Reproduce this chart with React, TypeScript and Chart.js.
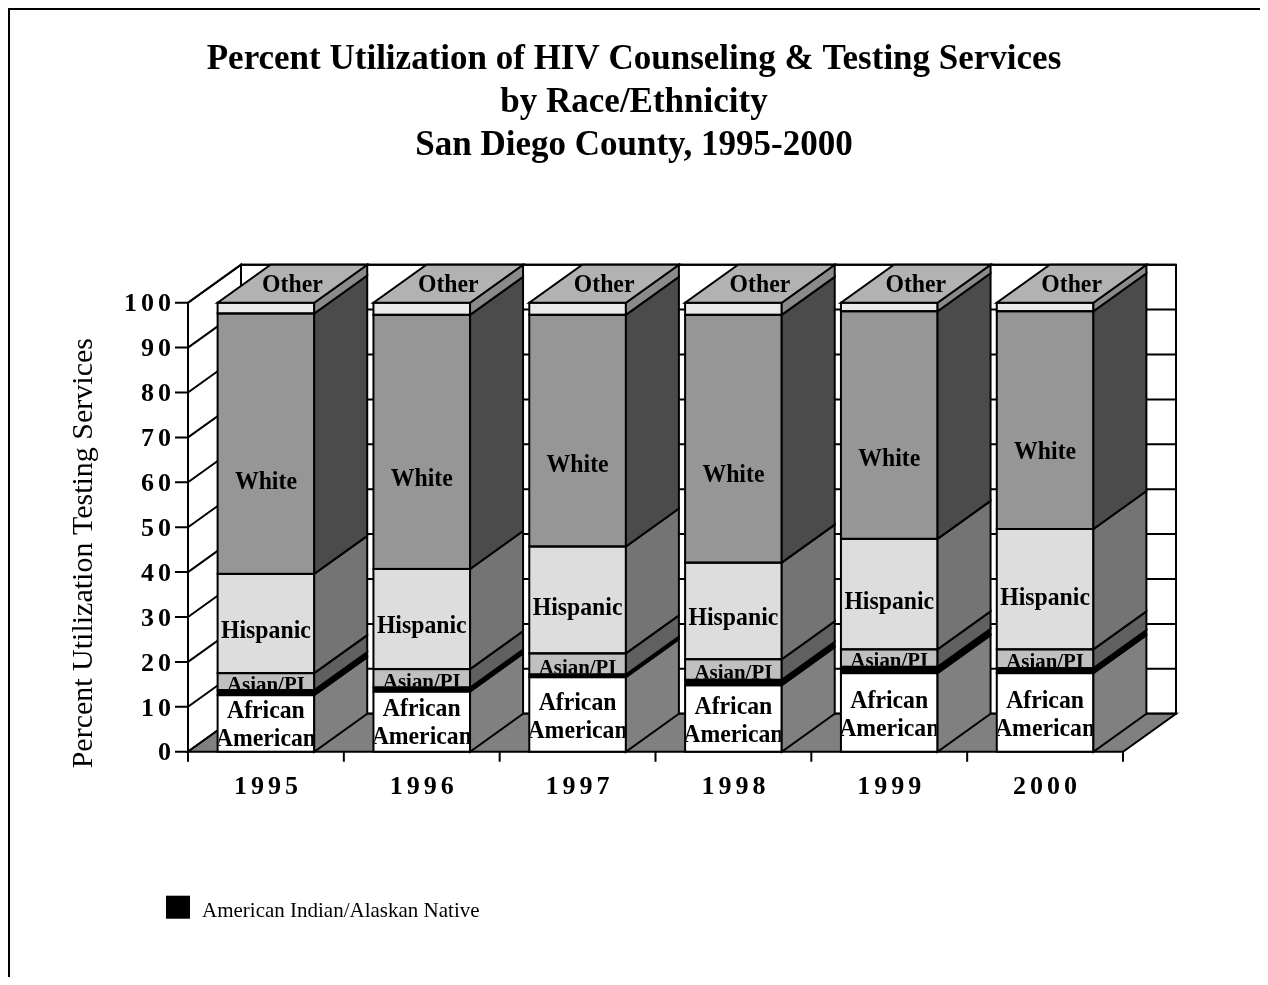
import React, { useEffect, useRef } from 'react';
import { Chart, registerables } from 'chart.js';

Chart.register(...registerables);

// Percent of clients per race/ethnicity group, stacked bottom to top
const YEARS = ['1995', '1996', '1997', '1998', '1999', '2000'];
const AFRICAN_AMERICAN = [12.6, 13.4, 16.6, 14.8, 17.5, 17.5];
const AMERICAN_INDIAN = [1.1, 0.9, 0.6, 1.2, 1.4, 1.1];
const ASIAN_PI = [3.8, 4.1, 4.7, 4.6, 3.9, 4.2];
const HISPANIC = [22.1, 22.3, 23.8, 21.5, 24.6, 26.8];
const WHITE = [58.0, 56.6, 51.6, 55.2, 50.7, 48.5];
const OTHER = [2.4, 2.7, 2.7, 2.7, 1.9, 1.9];
const Y_TICKS = [0, 10, 20, 30, 40, 50, 60, 70, 80, 90, 100];

const TITLE = [
  'Percent Utilization of HIV Counseling & Testing Services',
  'by Race/Ethnicity',
  'San Diego County, 1995-2000',
];
const Y_TITLE = 'Percent Utilization Testing Services';

const SERIF = '"Liberation Serif", "Times New Roman", Times, serif';
// depth offset of the 3D box (towards the back wall)
const DX = 53;
const DY = -38;
const EDGE = 2;

type SeriesLook = {
  label: string;
  data: number[];
  face: string;
  side: string;
  top: string;
  text: 'inside' | 'top' | 'legend';
  size?: number;
  at?: number;
};

const SERIES: SeriesLook[] = [
  { label: 'African American', data: AFRICAN_AMERICAN, face: '#ffffff', side: '#808080', top: '#c0c0c0', text: 'inside', size: 25, at: 0.46 },
  { label: 'American Indian/Alaskan Native', data: AMERICAN_INDIAN, face: '#000000', side: '#000000', top: '#000000', text: 'legend' },
  { label: 'Asian/PI', data: ASIAN_PI, face: '#c0c0c0', side: '#606060', top: '#909090', text: 'inside', size: 22, at: 0.3 },
  { label: 'Hispanic', data: HISPANIC, face: '#dddddd', side: '#747474', top: '#a6a6a6', text: 'inside', size: 25, at: 0.42 },
  { label: 'White', data: WHITE, face: '#969696', side: '#4b4b4b', top: '#707070', text: 'inside', size: 25, at: 0.35 },
  { label: 'Other', data: OTHER, face: '#eaeaea', side: '#8a8a8a', top: '#b2b2b2', text: 'top', size: 25 },
];

type Pt = [number, number];

function shape(ctx: CanvasRenderingContext2D, pts: Pt[], fill: string) {
  ctx.beginPath();
  ctx.moveTo(pts[0][0], pts[0][1]);
  for (let i = 1; i < pts.length; i++) ctx.lineTo(pts[i][0], pts[i][1]);
  ctx.closePath();
  ctx.fillStyle = fill;
  ctx.fill();
  ctx.stroke();
}

function blockOf(el: any) {
  const p = el.getProps(['x', 'y', 'base', 'width'], true);
  return {
    cx: p.x,
    xL: p.x - p.width / 2,
    xR: p.x + p.width / 2,
    w: p.width,
    yT: Math.min(p.y, p.base),
    yB: Math.max(p.y, p.base),
  };
}

const boxPlugin = {
  id: 'box3d',
  beforeDatasetsDraw(chart: any) {
    const ctx: CanvasRenderingContext2D = chart.ctx;
    const xs = chart.scales.x;
    const ys = chart.scales.y;
    const left = xs.left;
    const right = xs.right;
    const py = (v: number) => ys.getPixelForValue(v);
    const top = py(100);
    const bottom = py(0);

    ctx.save();
    ctx.lineWidth = EDGE;
    ctx.strokeStyle = '#000';
    ctx.lineJoin = 'miter';

    // back wall and side wall
    shape(ctx, [[left + DX, top + DY], [right + DX, top + DY], [right + DX, bottom + DY], [left + DX, bottom + DY]], '#ffffff');
    shape(ctx, [[left, top], [left + DX, top + DY], [left + DX, bottom + DY], [left, bottom]], '#ffffff');

    // gridlines running along both walls
    ctx.beginPath();
    Y_TICKS.forEach((v) => {
      const y = py(v);
      ctx.moveTo(left, y);
      ctx.lineTo(left + DX, y + DY);
      ctx.lineTo(right + DX, y + DY);
    });
    ctx.stroke();

    // floor
    shape(ctx, [[left, bottom], [right, bottom], [right + DX, bottom + DY], [left + DX, bottom + DY]], '#808080');

    // tick marks on the front axes
    ctx.beginPath();
    Y_TICKS.forEach((v) => {
      const y = py(v);
      ctx.moveTo(left - 13, y);
      ctx.lineTo(left, y);
    });
    const half = (xs.getPixelForValue(1) - xs.getPixelForValue(0)) / 2;
    const bounds = YEARS.map((_, i) => xs.getPixelForValue(i) - half);
    bounds.push(xs.getPixelForValue(YEARS.length - 1) + half);
    bounds.forEach((x) => {
      ctx.moveTo(x, bottom);
      ctx.lineTo(x, bottom + 10);
    });
    ctx.stroke();
    ctx.restore();
  },

  afterDatasetsDraw(chart: any) {
    const ctx: CanvasRenderingContext2D = chart.ctx;
    const n = chart.data.datasets.length;
    ctx.save();
    ctx.lineWidth = EDGE;
    ctx.strokeStyle = '#000';
    ctx.lineJoin = 'miter';

    // outlines of the front faces, then side and top faces of every block
    for (let di = 0; di < n; di++) {
      const look = SERIES[di];
      const meta = chart.getDatasetMeta(di);
      meta.data.forEach((el: any) => {
        const b = blockOf(el);
        ctx.strokeRect(b.xL, b.yT, b.w, b.yB - b.yT);
        shape(ctx, [[b.xR, b.yT], [b.xR + DX, b.yT + DY], [b.xR + DX, b.yB + DY], [b.xR, b.yB]], look.side);
        if (di === n - 1) {
          shape(ctx, [[b.xL, b.yT], [b.xR, b.yT], [b.xR + DX, b.yT + DY], [b.xL + DX, b.yT + DY]], look.top);
        }
      });
    }

    // series names written on the blocks
    ctx.fillStyle = '#000';
    ctx.textAlign = 'center';
    ctx.textBaseline = 'middle';
    for (let di = 0; di < n; di++) {
      const look = SERIES[di];
      if (look.text === 'legend') continue;
      const lines = chart.data.datasets[di].label.split(' ');
      const meta = chart.getDatasetMeta(di);
      meta.data.forEach((el: any) => {
        const b = blockOf(el);
        ctx.save();
        ctx.font = `bold ${look.size}px ${SERIF}`;
        let cx = b.cx;
        let cy: number;
        if (look.text === 'top') {
          cx = b.cx + DX / 2;
          cy = b.yT + DY / 2 + 2;
        } else {
          ctx.beginPath();
          ctx.rect(b.xL + 1, b.yT + 1, b.w - 2, b.yB - b.yT - 2);
          ctx.clip();
          cy = b.yB - (b.yB - b.yT) * (look.at || 0.5);
        }
        const lh = 28;
        ctx.translate(cx, cy);
        ctx.scale(0.95, 1);
        lines.forEach((line: string, i: number) => {
          ctx.fillText(line, 0, (i - (lines.length - 1) / 2) * lh);
        });
        ctx.restore();
      });
    }
    ctx.restore();
  },

  afterDraw(chart: any) {
    const ctx: CanvasRenderingContext2D = chart.ctx as any;
    const xs = chart.scales.x;
    const ys = chart.scales.y;
    const area = chart.chartArea;
    ctx.save();
    ctx.fillStyle = '#000';

    // value axis labels
    ctx.font = `bold 26px ${SERIF}`;
    (ctx as any).letterSpacing = '4px';
    ctx.textAlign = 'right';
    ctx.textBaseline = 'middle';
    Y_TICKS.forEach((v) => {
      ctx.fillText(String(v), area.left - 13, ys.getPixelForValue(v) + 2);
    });

    // year labels
    ctx.textAlign = 'center';
    YEARS.forEach((yr, i) => {
      ctx.fillText(yr, xs.getPixelForValue(i) + 2, area.bottom + 36);
    });
    (ctx as any).letterSpacing = '0px';

    // value axis title
    ctx.save();
    ctx.font = `30px ${SERIF}`;
    ctx.textAlign = 'center';
    ctx.textBaseline = 'alphabetic';
    ctx.translate(82, (area.top + area.bottom) / 2 + 26);
    ctx.rotate(-Math.PI / 2);
    ctx.fillText(Y_TITLE, 0, 0);
    ctx.restore();

    // legend entry for the thin band
    SERIES.forEach((look, di) => {
      if (look.text !== 'legend') return;
      const lx = area.left - 22;
      const ly = area.bottom + 144;
      ctx.fillStyle = look.face;
      ctx.fillRect(lx, ly, 24, 23);
      ctx.fillStyle = '#000';
      ctx.font = `21px ${SERIF}`;
      ctx.textAlign = 'left';
      ctx.textBaseline = 'alphabetic';
      ctx.fillText(chart.data.datasets[di].label, lx + 36, ly + 21);
    });
    ctx.restore();
  },
};

export default function App() {
  const ref = useRef<HTMLCanvasElement | null>(null);

  useEffect(() => {
    document.documentElement.style.overflow = 'hidden';
    const canvas = ref.current;
    if (!canvas) return;
    const chart = new Chart(canvas, {
      type: 'bar',
      data: {
        labels: YEARS,
        datasets: SERIES.map((s) => ({
          label: s.label,
          data: s.data,
          backgroundColor: s.face,
          borderWidth: 0,
          barPercentage: 0.62,
          categoryPercentage: 1,
        })),
      },
      options: {
        animation: false,
        responsive: false,
        maintainAspectRatio: false,
        layout: { padding: { left: 0, right: 10, top: 0, bottom: 0 } },
        plugins: {
          legend: { display: false },
          tooltip: { enabled: false },
          title: {
            display: true,
            text: TITLE,
            color: '#000',
            font: { family: SERIF, size: 35, weight: 'bold', lineHeight: 1.22 },
            padding: { top: 29, bottom: 135.6 },
          },
        },
        scales: {
          x: {
            stacked: true,
            afterFit: (s: any) => { s.height = 225.3; },
            ticks: { display: false },
            grid: { display: false },
            border: { display: false },
          },
          y: {
            stacked: true,
            min: 0,
            max: 100,
            afterFit: (s: any) => { s.width = 178; },
            ticks: { display: false },
            grid: { display: false },
            border: { display: false },
          },
          yEdge: {
            type: 'linear',
            position: 'right',
            afterFit: (s: any) => { s.width = 135; },
            ticks: { display: false },
            grid: { display: false },
            border: { display: false },
          },
        },
      } as any,
      plugins: [boxPlugin],
    });
    return () => chart.destroy();
  }, []);

  return (
    <div
      style={{
        width: 1258,
        height: 967,
        borderTop: '2px solid #000',
        borderLeft: '2px solid #000',
        overflow: 'hidden',
      }}
    >
      <canvas ref={ref} width={1258} height={967} style={{ display: 'block', width: 1258, height: 967 }} />
    </div>
  );
}
